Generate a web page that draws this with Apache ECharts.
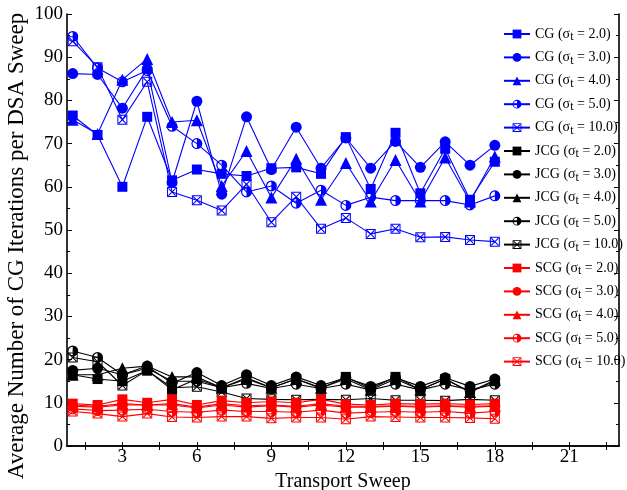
<!DOCTYPE html>
<html>
<head>
<meta charset="utf-8">
<script src="https://cdn.jsdelivr.net/npm/echarts@6/dist/echarts.min.js"></script>
<style>
  html, body { margin: 0; padding: 0; background: #fff; }
  #chart { width: 627px; height: 490px; }
</style>
</head>
<body>
<div id="chart"></div>
<script>
const sweeps = [1, 2, 3, 4, 5, 6, 7, 8, 9, 10, 11, 12, 13, 14, 15, 16, 17, 18];
const xLabelValues = [3, 6, 9, 12, 15, 18, 21];
const xTickValues = [1.5, 3, 4.5, 6, 7.5, 9, 10.5, 12, 13.5, 15, 16.5, 18, 19.5, 21, 22.5];

// CG
const cg2  = [76.5, 72.0, 60.0, 76.2, 61.5, 64.0, 63.0, 62.5, 64.3, 64.5, 63.0, 71.5, 59.5, 72.5, 58.5, 68.8, 57.0, 65.8];
const cg3  = [86.2, 86.0, 78.2, 87.3, 61.0, 79.8, 58.3, 76.2, 64.0, 73.8, 64.3, 71.3, 64.3, 70.5, 64.5, 70.4, 65.0, 69.6];
const cg4  = [75.5, 72.2, 84.8, 89.6, 75.0, 75.4, 60.2, 68.3, 57.5, 66.5, 57.0, 65.5, 56.6, 66.2, 56.6, 66.8, 56.6, 67.0];
const cg5  = [94.8, 87.5, 84.3, 86.9, 74.0, 70.0, 65.0, 58.8, 60.2, 56.2, 59.2, 55.7, 57.6, 56.8, 56.8, 56.8, 55.8, 57.9];
const cg10 = [93.7, 87.7, 75.5, 84.3, 58.8, 56.9, 54.5, 60.6, 51.8, 57.7, 50.3, 52.8, 49.1, 50.3, 48.3, 48.4, 47.7, 47.3];

// JCG
const jcg2  = [16.5, 15.5, 15.0, 17.5, 13.0, 15.5, 13.5, 15.8, 13.5, 15.5, 13.3, 16.0, 13.3, 16.0, 13.0, 15.5, 12.5, 15.0];
const jcg3  = [17.5, 18.0, 16.5, 18.5, 14.5, 17.0, 14.0, 16.5, 14.0, 16.0, 14.0, 15.8, 13.8, 15.8, 13.8, 15.8, 13.8, 15.5];
const jcg4  = [16.5, 16.5, 18.0, 18.5, 16.0, 16.0, 13.5, 15.5, 13.5, 15.5, 13.5, 15.5, 13.0, 15.5, 13.0, 15.5, 12.5, 15.3];
const jcg5  = [22.0, 20.5, 16.5, 18.0, 15.0, 15.0, 13.5, 14.5, 13.3, 14.3, 13.3, 14.3, 13.0, 14.3, 13.0, 14.3, 13.0, 14.3];
const jcg10 = [20.5, 19.5, 14.0, 17.5, 13.5, 13.7, 12.5, 11.0, 10.8, 10.7, 10.8, 10.7, 11.0, 10.6, 10.6, 10.5, 10.8, 10.6];

// SCG
const scg2  = [9.8, 9.5, 10.8, 10.0, 10.8, 9.5, 10.5, 10.0, 10.3, 10.0, 10.8, 9.7, 9.5, 9.8, 9.7, 9.8, 9.6, 9.8];
const scg3  = [9.2, 9.0, 9.5, 9.5, 9.5, 8.8, 9.5, 9.0, 9.3, 9.0, 9.5, 9.0, 9.0, 9.2, 9.0, 9.2, 9.0, 9.2];
const scg4  = [9.5, 9.2, 9.8, 9.5, 9.8, 9.0, 9.8, 9.3, 9.5, 9.2, 9.8, 9.2, 9.2, 9.3, 9.2, 9.3, 9.2, 9.3];
const scg5  = [8.6, 8.2, 8.3, 8.5, 8.0, 7.8, 8.3, 8.0, 8.0, 7.8, 8.3, 7.6, 7.8, 8.0, 7.8, 8.0, 7.6, 8.0];
const scg10 = [8.0, 7.5, 6.8, 7.5, 6.7, 6.6, 6.8, 6.8, 6.4, 6.6, 6.6, 6.2, 6.8, 6.7, 6.6, 6.6, 6.5, 6.3];

const FONT = 'Liberation Serif';

// half filled circle (right half solid) and square with an X
const halfCircle = 'path://M10 0 A10 10 0 0 1 10 20 A10 10 0 0 1 10 0 Z M10 2.2 A7.8 7.8 0 0 0 10 17.8 L10 2.2 Z';
const squareCross = 'path://M0 0 H20 V20 H0 Z M2 2 V18 H18 V2 Z M2 3.5 L3.5 2 L18 16.5 L16.5 18 Z M16.5 2 L18 3.5 L3.5 18 L2 16.5 Z';

const sigmas = ['2.0', '3.0', '4.0', '5.0', '10.0'];
const markers = [
  { symbol: 'rect', size: 10 },
  { symbol: 'circle', size: 11 },
  { symbol: 'triangle', size: 12 },
  { symbol: halfCircle, size: 11 },
  { symbol: squareCross, size: 10 }
];

const groups = [
  { method: 'CG', color: '#0000ff', sets: [cg2, cg3, cg4, cg5, cg10] },
  { method: 'JCG', color: '#000000', sets: [jcg2, jcg3, jcg4, jcg5, jcg10] },
  { method: 'SCG', color: '#ff0000', sets: [scg2, scg3, scg4, scg5, scg10] }
];

const series = [];
const names = [];
groups.forEach((g) => {
  g.sets.forEach((vals, i) => {
    const name = `${g.method} (σt = ${sigmas[i]})`;
    names.push(name);
    series.push({
      name,
      type: 'line',
      data: sweeps.map((x, k) => [x, vals[k]]),
      symbol: markers[i].symbol,
      symbolSize: markers[i].size,
      symbolKeepAspect: true,
      showAllSymbol: true,
      lineStyle: { color: g.color, width: 1.1 },
      itemStyle: { color: g.color },
      emphasis: { disabled: true },
      animation: false
    });
  });
});

const axisLine = { show: true, lineStyle: { color: '#000', width: 1.6 } };

const chart = echarts.init(document.getElementById('chart'));
chart.setOption({
  backgroundColor: '#fff',
  animation: false,
  grid: { left: 67, right: 8, top: 14, bottom: 44, containLabel: false, outerBoundsMode: 'none' },
  legend: {
    data: names,
    orient: 'vertical',
    left: 498,
    top: 22,
    itemWidth: 26,
    itemHeight: 11,
    itemGap: 7.4,
    formatter: (name) => {
      const [a, b] = name.split('σt');
      return `{n|${a}σ}{s|t}{n|${b}}`;
    },
    textStyle: {
      color: '#000',
      fontFamily: FONT,
      rich: {
        n: { fontFamily: FONT, fontSize: 14, color: '#000' },
        s: { fontFamily: FONT, fontSize: 12, color: '#000', verticalAlign: 'bottom', padding: [6, 0, 0, 0] }
      }
    }
  },
  xAxis: [
    {
      type: 'value',
      min: 0.77,
      max: 23,
      position: 'bottom',
      name: 'Transport Sweep',
      nameLocation: 'middle',
      nameGap: 23,
      nameTextStyle: { fontFamily: FONT, fontSize: 20, color: '#000' },
      axisLine,
      axisTick: { inside: true, length: 4, customValues: xTickValues, lineStyle: { color: '#000' } },
      axisLabel: { customValues: xLabelValues, fontFamily: FONT, fontSize: 19, color: '#000', margin: 2 },
      splitLine: { show: false }
    },
    {
      type: 'value',
      min: 0.77,
      max: 23,
      position: 'top',
      axisLine,
      axisTick: { inside: true, length: 4, customValues: xTickValues, lineStyle: { color: '#000' } },
      axisLabel: { show: false },
      splitLine: { show: false }
    }
  ],
  yAxis: [
    {
      type: 'value',
      min: 0,
      max: 100,
      interval: 10,
      position: 'left',
      axisLine,
      axisTick: { inside: true, length: 5, lineStyle: { color: '#000' } },
      minorTick: { show: true, splitNumber: 2, length: 3, lineStyle: { color: '#000' } },
      axisLabel: { fontFamily: FONT, fontSize: 19, color: '#000', margin: 4 },
      splitLine: { show: false }
    },
    {
      type: 'value',
      min: 0,
      max: 100,
      interval: 10,
      position: 'right',
      axisLine,
      axisTick: { inside: true, length: 5, lineStyle: { color: '#000' } },
      minorTick: { show: true, splitNumber: 2, length: 3, lineStyle: { color: '#000' } },
      axisLabel: { show: false },
      splitLine: { show: false }
    }
  ],
  graphic: [
    {
      type: 'text',
      x: 17,
      y: 246,
      rotation: Math.PI / 2,
      style: {
        text: 'Average Number of CG Iterations per DSA Sweep',
        fontFamily: FONT,
        fontSize: 23,
        fill: '#000',
        textAlign: 'center',
        textVerticalAlign: 'middle'
      }
    }
  ],
  series
});
</script>
</body>
</html>
